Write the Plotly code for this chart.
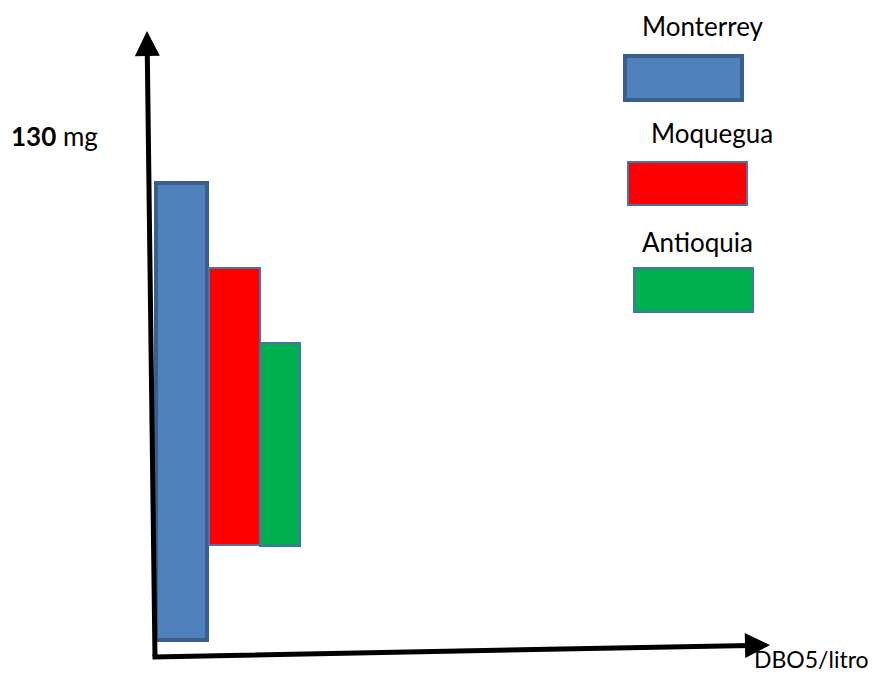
import plotly.graph_objects as go

# data (units: mg DBO5/litro)
regions = ["Monterrey", "Moquegua", "Antioquia"]
low_vals = [4.2, 27.9, 27.7]
high_vals = [118.3, 97.0, 78.3]
tick_value = 130

FILLS = ["#4F81BD", "#FF0000", "#00B050"]
EDGES = ["#3A5F8B", "#4A72A6", "#4A72A6"]
EDGE_W = [4, 2, 2]

# layout in reference pixels; page body has an 8px margin
W, H = 882, 681
PAD = 8
ORIGIN_Y = 657
PX_PER_UNIT = 4.008
bar_x = [181, 234.5, 280]
bar_w = [51, 51, 40]


def yv(py):
    return (ORIGIN_Y - py) / PX_PER_UNIT


fig = go.Figure()
for i, name in enumerate(regions):
    fig.add_trace(go.Bar(
        x=[bar_x[i]], y=[high_vals[i] - low_vals[i]], base=[low_vals[i]],
        width=[bar_w[i]], name=name, showlegend=False,
        marker=dict(color=FILLS[i], line=dict(color=EDGES[i], width=EDGE_W[i])),
    ))

# axes drawn as arrows
fig.add_annotation(x=147, y=yv(31), ax=155, ay=yv(658), xref="x", yref="y",
                   axref="x", ayref="y", showarrow=True, arrowhead=2,
                   arrowsize=1.0, arrowwidth=5, arrowcolor="black", text="")
fig.add_annotation(x=770, y=yv(645), ax=151, ay=yv(657), xref="x", yref="y",
                   axref="x", ayref="y", showarrow=True, arrowhead=2,
                   arrowsize=1.0, arrowwidth=5, arrowcolor="black", text="")

FONT = dict(family="Lato, 'Open Sans', sans-serif", size=26, color="black")
fig.add_annotation(x=9, y=yv(136), xref="x", yref="y", xanchor="left",
                   text=f"<b>{tick_value}</b> mg", showarrow=False, font=FONT)
fig.add_annotation(x=752, y=yv(673), xref="x", yref="y", xanchor="left",
                   yanchor="bottom", yshift=-2, text="DBO5/litro",
                   showarrow=False, font=dict(FONT, size=23))

# hand-drawn legend at the right
legend_boxes = [(625, 56, 742, 100), (628, 162, 747, 205), (634, 268, 753, 312)]
legend_text = [(703, 26), (712, 133), (697, 242)]
for i, name in enumerate(regions):
    x0, y0, x1, y1 = legend_boxes[i]
    fig.add_shape(type="rect", xref="x", yref="y", x0=x0, x1=x1,
                  y0=yv(y1), y1=yv(y0), fillcolor=FILLS[i],
                  line=dict(color=EDGES[i], width=EDGE_W[i]))
    tx, ty = legend_text[i]
    fig.add_annotation(x=tx, y=yv(ty), xref="x", yref="y", text=name,
                       showarrow=False, font=FONT, borderpad=0)

fig.update_layout(
    width=W - 2 * PAD, height=H - 2 * PAD,
    margin=dict(l=0, r=0, t=0, b=0),
    plot_bgcolor="white", paper_bgcolor="white", bargap=0,
    xaxis=dict(range=[PAD, W - PAD], visible=False, fixedrange=True),
    yaxis=dict(range=[yv(H - PAD), yv(PAD)], visible=False, fixedrange=True),
)

fig.write_html("out.html")
